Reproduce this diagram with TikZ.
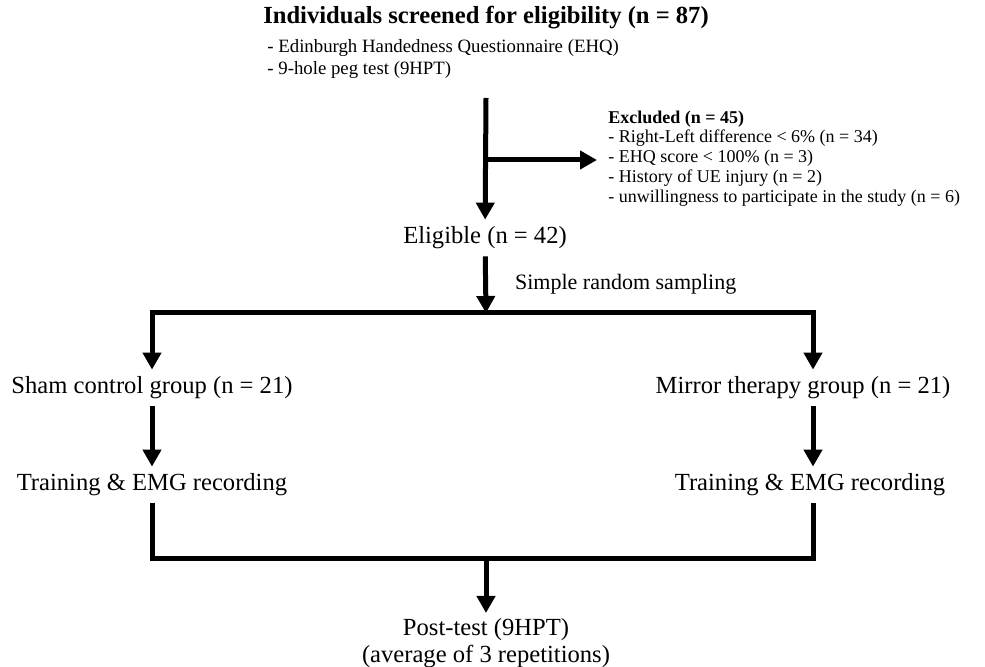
\documentclass[tikz,border=0pt]{standalone}
\usepackage{fontspec}
\setmainfont{Liberation Serif}
\usetikzlibrary{arrows.meta,positioning,calc}

\begin{document}
\begin{tikzpicture}[
  x=0.5pt, y=0.5pt,
  font=\fontsize{12.3}{14}\selectfont,
  box/.style={inner xsep=2pt, inner ysep=3.5pt, text height=8.5pt,
              text depth=2.5pt, align=center, text=black},
  head/.style={box, font=\fontsize{12.3}{14}\selectfont\bfseries},
  note/.style={font=\fontsize{9.4}{11}\selectfont, align=left, inner sep=0pt},
  excl/.style={font=\fontsize{9}{9.9}\selectfont, align=left,
               inner xsep=5.5pt, inner ysep=0pt},
  lab/.style={font=\fontsize{11}{13}\selectfont, inner sep=0pt},
  ln/.style={line width=2.5pt, draw=black},
  ar/.style={ln, -{Triangle[length=8.5pt,width=9pt]}},
]
\useasboundingbox (0,0) rectangle (985,-667);

% ---------------- screening ----------------
\node[head] (screen) at (486,-18) {Individuals screened for eligibility (n = 87)};
\node[note, anchor=west] (tests) at (267,-59)
  {- Edinburgh Handedness Questionnaire (EHQ)\\- 9-hole peg test (9HPT)};

\coordinate (start) at (486,-98);
\coordinate (branch) at (486,-160);

\node[excl, anchor=west] (out) at (597,-158.5)
  {\textbf{Excluded (n = 45)}\\
   - Right-Left difference < 6\% (n = 34)\\
   - EHQ score < 100\% (n = 3)\\
   - History of UE injury (n = 2)\\
   - unwillingness to participate in the study (n = 6)};

\node[box] (elig) at (485,-238) {Eligible (n = 42)};

\draw[ar] (start) -- (elig);
\draw[ar] (branch) -- (branch -| out.west);

% ---------------- allocation ----------------
\coordinate (split) at (486,-313);
\coordinate (rx) at (813,-313);

\node[box] (sham) at (152,-388) {Sham control group (n = 21)};
\node[box] (mirror) at (803,-388) {Mirror therapy group (n = 21)};

\draw[ar] (elig) -- node[lab, right=13.5pt] {Simple random sampling} (split);
\draw[ar] (split) -| (sham);
\draw[ar] (split) -- (rx) -- (rx |- mirror.north);

% ---------------- training ----------------
\node[box] (trainsham) at (152,-485) {Training \& EMG recording};
\node[box] (trainmirror) at (810,-485) {Training \& EMG recording};

\draw[ar] (sham) -- (trainsham);
\draw[ar] (mirror.south -| rx) -- (trainmirror.north -| rx);

% ---------------- post-test ----------------
\coordinate (join) at (486,-559);
\node[align=center, inner sep=2.5pt, anchor=north,
      font=\fontsize{12.3}{13.5}\selectfont] (post) at (486,-613)
  {Post-test (9HPT)\\(average of 3 repetitions)};

\draw[ln] (trainsham) |- (join) -| (trainmirror.south -| rx);
\draw[ar] (join) -- (post);

\end{tikzpicture}
\end{document}
